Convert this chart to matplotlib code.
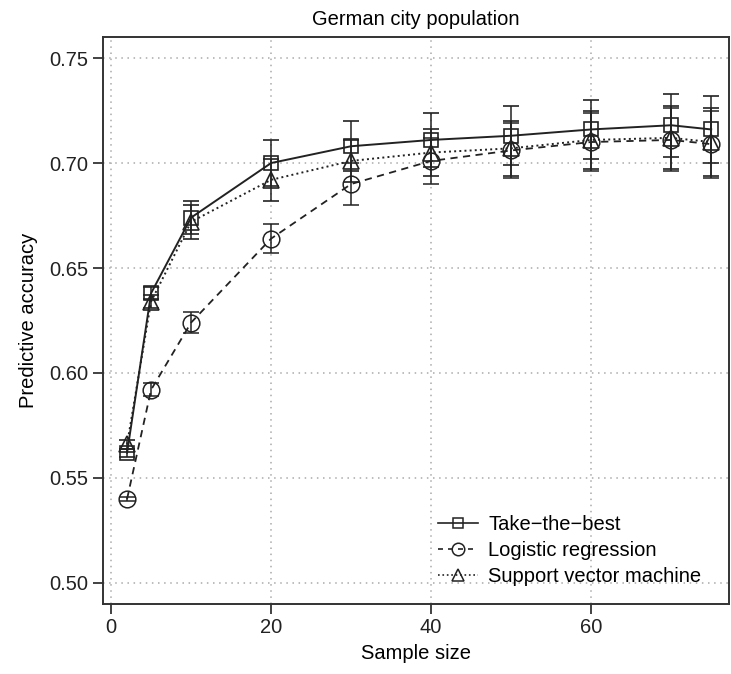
import numpy as np
import matplotlib
matplotlib.use("Agg")
from matplotlib import pyplot as plt
from matplotlib.lines import Line2D

# sample sizes
sample_size = [2, 5, 10, 20, 30, 40, 50, 60, 70, 75]

# mean predictive accuracy
ttb_acc = [0.562, 0.638, 0.674, 0.700, 0.708, 0.711, 0.713, 0.716, 0.718, 0.716]
lr_acc = [0.540, 0.592, 0.624, 0.664, 0.690, 0.701, 0.706, 0.710, 0.711, 0.709]
svm_acc = [0.566, 0.634, 0.672, 0.692, 0.701, 0.705, 0.707, 0.711, 0.712, 0.710]

# half-widths of the error bars
ttb_err = [0.002, 0.003, 0.008, 0.011, 0.012, 0.013, 0.014, 0.014, 0.015, 0.016]
lr_err = [0.001, 0.003, 0.005, 0.007, 0.010, 0.011, 0.013, 0.014, 0.015, 0.016]
svm_err = [0.002, 0.003, 0.008, 0.010, 0.010, 0.011, 0.013, 0.014, 0.015, 0.016]

series_names = ["Take\u2212the\u2212best", "Logistic regression", "Support vector machine"]

plt.rcParams['font.family'] = ['Liberation Sans', 'DejaVu Sans']

fig = plt.figure(figsize=(7.31, 6.74), dpi=100)
ax = fig.add_axes([0.141, 0.104, 0.856, 0.841])

line_col = "#222222"
common = dict(capsize=6, elinewidth=1.1, capthick=1.1, markerfacecolor='none')

ax.errorbar(sample_size, ttb_acc, yerr=ttb_err, fmt='-', marker='s', markersize=10,
            color=line_col, ecolor=line_col, linewidth=1.4, markeredgewidth=1.2,
            zorder=3, **common)
ax.errorbar(sample_size, lr_acc, yerr=lr_err, fmt='--', marker='o', markersize=12,
            color=line_col, ecolor=line_col, linewidth=1.3, markeredgewidth=1.1,
            dashes=(4, 3), zorder=3, **common)
ax.errorbar(sample_size, svm_acc, yerr=svm_err, fmt=':', marker='^', markersize=11,
            color=line_col, ecolor=line_col, linewidth=1.4, markeredgewidth=1.2,
            zorder=3, **common)

fs = 14.5
ax.set_xlim(-1, 77.2)
ax.set_ylim(0.49, 0.76)
ax.set_xticks([0, 20, 40, 60])
ax.set_yticks([0.50, 0.55, 0.60, 0.65, 0.70, 0.75])
ax.set_yticklabels(["0.50", "0.55", "0.60", "0.65", "0.70", "0.75"])
ax.tick_params(axis='both', labelsize=fs, direction='out', length=7, width=1.2, colors='#222222')
ax.grid(True, linestyle=(0, (1, 3)), color='#aaaaaa', linewidth=1.1)
ax.set_axisbelow(True)
for sp in ax.spines.values():
    sp.set_linewidth(1.4)
    sp.set_color('#333333')

ax.set_title("German city population", fontsize=fs, pad=9)
ax.set_xlabel("Sample size", fontsize=fs, labelpad=5)
ax.set_ylabel("Predictive accuracy", fontsize=fs, labelpad=8)

# legend: line + open marker only, no error bars
handles = [
    Line2D([], [], color=line_col, linestyle='-', linewidth=1.2, marker='s', markersize=7,
           markerfacecolor='none', markeredgewidth=1.1),
    Line2D([], [], color=line_col, linestyle='--', dashes=(3, 3), linewidth=1.2, marker='o',
           markersize=9, markerfacecolor='none', markeredgewidth=1.1),
    Line2D([], [], color=line_col, linestyle=':', linewidth=1.2, marker='^', markersize=8,
           markerfacecolor='none', markeredgewidth=1.1),
]
ax.legend(handles, series_names, loc='lower right', bbox_to_anchor=(0.985, 0.0), frameon=False,
          fontsize=fs, handlelength=2.0, handletextpad=0.5, labelspacing=0.35)

fig.savefig("out.png", dpi=100)
